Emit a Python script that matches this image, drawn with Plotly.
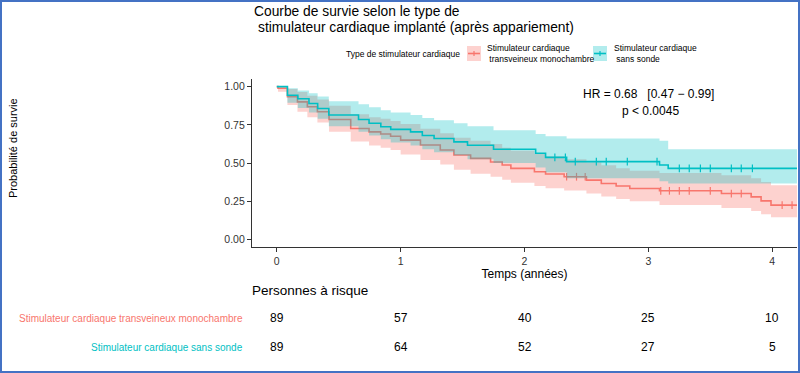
import numpy as np
import plotly.graph_objects as go

# ---------------- data ----------------
red_name = "Stimulateur cardiaque transveineux monochambre"
teal_name = "Stimulateur cardiaque sans sonde"

red_time = [0, 0.01, 0.086, 0.167, 0.247, 0.328, 0.422, 0.597, 0.745, 0.839, 0.919, 1.0, 1.16, 1.32,
            1.43, 1.565, 1.726, 1.82, 1.89, 2.08, 2.17, 2.32, 2.50, 2.62, 2.74, 2.85, 3.09, 3.59,
            3.83, 3.91, 3.99, 4.2]
red_surv = [1.0, 0.989, 0.934, 0.90, 0.868, 0.836, 0.785, 0.726, 0.704, 0.69, 0.675, 0.65, 0.618, 0.585,
            0.552, 0.53, 0.507, 0.487, 0.465, 0.443, 0.428, 0.41, 0.388, 0.366, 0.349, 0.333, 0.318, 0.30,
            0.278, 0.252, 0.224, 0.224]
red_upper = [1.0, 1.0, 0.985, 0.965, 0.94, 0.915, 0.875, 0.82, 0.80, 0.79, 0.775, 0.755, 0.725, 0.695,
             0.665, 0.645, 0.625, 0.60, 0.58, 0.56, 0.545, 0.525, 0.505, 0.485, 0.465, 0.45, 0.435, 0.42,
             0.40, 0.375, 0.355, 0.355]
red_lower = [1.0, 0.967, 0.88, 0.835, 0.80, 0.765, 0.705, 0.64, 0.615, 0.60, 0.585, 0.555, 0.52, 0.49,
             0.455, 0.43, 0.41, 0.39, 0.37, 0.35, 0.335, 0.32, 0.30, 0.28, 0.265, 0.25, 0.225, 0.205,
             0.185, 0.165, 0.145, 0.145]
red_cens = [2.34, 2.42, 2.49, 3.10, 3.17, 3.25, 3.33, 3.50, 3.67, 3.75, 4.08, 4.16]

teal_time = [0, 0.086, 0.17, 0.26, 0.33, 0.42, 0.66, 0.745, 0.84, 0.92, 1.08, 1.175, 1.27, 1.43, 1.54,
             1.75, 2.09, 2.17, 2.34, 3.09, 3.16, 4.2]
teal_surv = [1.0, 0.944, 0.921, 0.89, 0.857, 0.814, 0.785, 0.76, 0.737, 0.72, 0.704, 0.68, 0.66, 0.638,
             0.616, 0.59, 0.564, 0.537, 0.509, 0.487, 0.465, 0.465]
teal_upper = [1.0, 0.99, 0.975, 0.956, 0.935, 0.905, 0.885, 0.865, 0.845, 0.83, 0.815, 0.795, 0.78, 0.76,
              0.74, 0.715, 0.69, 0.675, 0.66, 0.645, 0.59, 0.59]
teal_lower = [1.0, 0.895, 0.86, 0.83, 0.79, 0.74, 0.705, 0.68, 0.655, 0.635, 0.615, 0.59, 0.57, 0.55,
              0.525, 0.50, 0.47, 0.44, 0.40, 0.38, 0.366, 0.366]
teal_cens = [2.245, 2.33, 2.41, 2.58, 2.66, 2.83, 3.07, 3.25, 3.33, 3.42, 3.50, 3.67, 3.75, 3.84]

risk_times = [0, 1, 2, 3, 4]
risk_red = [89, 57, 40, 25, 10]
risk_teal = [89, 64, 52, 27, 5]
x_ticks = [0, 1, 2, 3, 4]
y_ticks = [0, 0.25, 0.5, 0.75, 1.0]

# ---------------- style ----------------
RED = "#F8766D"
TEAL = "#00BFC4"
RED_FILL = "rgba(248,118,109,0.33)"
TEAL_FILL = "rgba(0,191,196,0.30)"
FONT = "Liberation Sans, Arial, sans-serif"
W, H = 800, 373
ML, MR, MT, MB = 252, 3, 79, 126
PW, PH = W - ML - MR, H - MT - MB


def px(x):
    return (x - ML) / PW


def py(y):
    return (H - MB - y) / PH


def step_lookup(times, surv, t):
    i = np.searchsorted(np.array(times), t, side="right") - 1
    return surv[i]


fig = go.Figure()


def add_group(times, surv, up, lo, cens, color, fill, name):
    fig.add_trace(go.Scatter(x=times, y=up, mode="lines", line=dict(width=0, shape="hv"),
                             showlegend=False, hoverinfo="skip"))
    fig.add_trace(go.Scatter(x=times, y=lo, mode="lines", line=dict(width=0, shape="hv"),
                             fill="tonexty", fillcolor=fill, showlegend=False, hoverinfo="skip"))
    fig.add_trace(go.Scatter(x=times, y=surv, mode="lines", line=dict(color=color, width=1.6, shape="hv"),
                             name=name, showlegend=False))
    cs = [step_lookup(times, surv, t) for t in cens]
    fig.add_trace(go.Scatter(x=cens, y=cs, mode="markers",
                             marker=dict(symbol="line-ns", size=5.5, line=dict(color=color, width=1.2)),
                             showlegend=False, hoverinfo="skip"))


add_group(red_time, red_surv, red_upper, red_lower, red_cens, RED, RED_FILL, red_name)
add_group(teal_time, teal_surv, teal_upper, teal_lower, teal_cens, TEAL, TEAL_FILL, teal_name)

ann = []
# title
ann.append(dict(text="Courbe de survie selon le type de", x=px(252), y=py(11), xref="paper", yref="paper",
                xanchor="left", yanchor="middle", showarrow=False, font=dict(size=13.8, color="black")))
ann.append(dict(text="stimulateur cardiaque implanté (après appariement)", x=px(256), y=py(28),
                xref="paper", yref="paper", xanchor="left", yanchor="middle", showarrow=False,
                font=dict(size=13.8, color="black")))
# legend
ann.append(dict(text="Type de stimulateur cardiaque", x=px(462), y=py(54), xref="paper", yref="paper",
                xanchor="right", yanchor="middle", showarrow=False, font=dict(size=8.5, color="black")))
ann.append(dict(text="Stimulateur cardiaque<br> transveineux monochambre", x=px(485), y=py(53),
                xref="paper", yref="paper", xanchor="left", yanchor="middle", align="left",
                showarrow=False, font=dict(size=8.5, color="black")))
ann.append(dict(text="Stimulateur cardiaque<br> sans sonde", x=px(612), y=py(53),
                xref="paper", yref="paper", xanchor="left", yanchor="middle", align="left",
                showarrow=False, font=dict(size=8.5, color="black")))
# HR
ann.append(dict(text="HR = 0.68   [0.47 − 0.99]", x=px(648), y=py(94), xref="paper", yref="paper",
                xanchor="center", yanchor="middle", showarrow=False, font=dict(size=12, color="black")))
ann.append(dict(text="p < 0.0045", x=px(650), y=py(111), xref="paper", yref="paper",
                xanchor="center", yanchor="middle", showarrow=False, font=dict(size=12, color="black")))
# y title
ann.append(dict(text="Probabilité de survie", x=px(13), y=py(148), xref="paper", yref="paper",
                xanchor="center", yanchor="middle", textangle=-90, showarrow=False,
                font=dict(size=11, color="black")))
# risk table
ann.append(dict(text="Personnes à risque", x=px(250), y=py(290), xref="paper", yref="paper",
                xanchor="left", yanchor="middle", showarrow=False, font=dict(size=13.5, color="black")))
ann.append(dict(text=red_name, x=px(245), y=py(318), xref="paper", yref="paper", xanchor="right",
                yanchor="middle", showarrow=False, font=dict(size=10, color=RED)))
ann.append(dict(text=teal_name, x=px(245), y=py(347), xref="paper", yref="paper", xanchor="right",
                yanchor="middle", showarrow=False, font=dict(size=10, color=TEAL)))
for t, r, c in zip(risk_times, risk_red, risk_teal):
    ann.append(dict(text=str(r), x=t, y=py(318), xref="x", yref="paper", xanchor="center",
                    yanchor="middle", showarrow=False, font=dict(size=12, color="black")))
    ann.append(dict(text=str(c), x=t, y=py(347), xref="x", yref="paper", xanchor="center",
                    yanchor="middle", showarrow=False, font=dict(size=12, color="black")))

shapes = []
# legend keys
for x0, col, fil in [(467, RED, RED_FILL), (593, TEAL, TEAL_FILL)]:
    shapes.append(dict(type="rect", xref="paper", yref="paper", x0=px(x0), x1=px(x0 + 14),
                       y0=py(61), y1=py(46), line=dict(width=0), fillcolor=fil))
    shapes.append(dict(type="line", xref="paper", yref="paper", x0=px(x0 + 1), x1=px(x0 + 13),
                       y0=py(53.5), y1=py(53.5), line=dict(color=col, width=1.6)))
    shapes.append(dict(type="line", xref="paper", yref="paper", x0=px(x0 + 7), x1=px(x0 + 7),
                       y0=py(51), y1=py(56), line=dict(color=col, width=1.2)))
# frame
shapes.append(dict(type="rect", xref="paper", yref="paper", x0=px(1), x1=px(799), y0=py(372), y1=py(1),
                   line=dict(color="#4472C4", width=2)))

fig.update_layout(
    width=W, height=H, margin=dict(l=ML, r=MR, t=MT, b=MB),
    paper_bgcolor="white", plot_bgcolor="white",
    font=dict(family=FONT, color="black"),
    annotations=ann, shapes=shapes, showlegend=False,
)
fig.update_xaxes(range=[-0.2, 4.2], tickvals=x_ticks, ticks="outside", ticklen=4, tickcolor="#333333",
                 showline=True, linecolor="#333333", linewidth=1.2, showgrid=False, zeroline=False,
                 tickfont=dict(size=10.5, color="#333333"),
                 title=dict(text="Temps (années)", font=dict(size=12, color="black"), standoff=1))
fig.update_yaxes(range=[-0.05, 1.05], tickvals=y_ticks, tickformat=".2f", ticks="outside", ticklen=4,
                 tickcolor="#333333", showline=True, linecolor="#333333", linewidth=1.2, showgrid=False,
                 zeroline=False, tickfont=dict(size=10.5, color="#333333"))

fig.write_html("out.html", config={"displayModeBar": False},
               post_script="document.body.style.margin='0';document.body.style.overflow='hidden';")
